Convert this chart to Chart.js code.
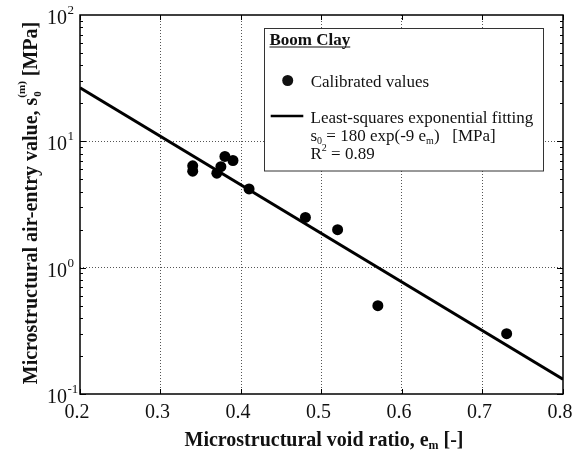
<!DOCTYPE html>
<html>
<head>
<meta charset="utf-8">
<script src="https://cdn.jsdelivr.net/npm/chart.js@4.4.0/dist/chart.umd.min.js"></script>
<style>
  html, body { margin: 0; padding: 0; background: #fff; }
</style>
</head>
<body>
<canvas id="chart" width="573" height="459"></canvas>
<script>
// ==========================================
// DATA
// ==========================================

const voidRatio = [0.34, 0.34, 0.37, 0.375, 0.38, 0.39, 0.41, 0.48, 0.52, 0.57, 0.73];
const airEntry = [6.4, 5.8, 5.6, 6.3, 7.6, 7.05, 4.2, 2.5, 2.0, 0.5, 0.3];

// least-squares fit, end points at the plot edges
const fitVoid = [0.2, 0.8];
const fitAir = [26.5, 0.131];

const xTicks = [0.2, 0.3, 0.4, 0.5, 0.6, 0.7, 0.8];
const yDecades = [-1, 0, 1, 2];      // y tick labels are 10^p

const SERIF = '"Liberation Serif", "Times New Roman", serif';

// draw a row of text pieces; dy shifts sub/superscripts
function drawPieces(ctx, pieces, x, y) {
    let cx = x;
    pieces.forEach(p => {
        ctx.font = p.font;
        ctx.fillText(p.text, cx, y + (p.dy || 0));
        cx += ctx.measureText(p.text).width;
    });
    return cx;
}

function piecesWidth(ctx, pieces) {
    let w = 0;
    pieces.forEach(p => {
        ctx.font = p.font;
        w += ctx.measureText(p.text).width;
    });
    return w;
}

// ==========================================
// LEGEND BOX
// ==========================================

function drawLegendBox(ctx) {
    const reg = '17px ' + SERIF;
    const small = '10px ' + SERIF;

    ctx.save();
    ctx.fillStyle = '#fff';
    ctx.fillRect(264.5, 28.5, 279, 142.5);
    ctx.strokeStyle = '#333';
    ctx.lineWidth = 1;
    ctx.strokeRect(264.5, 28.5, 279, 142.5);

    ctx.fillStyle = '#111';
    ctx.textBaseline = 'alphabetic';
    ctx.textAlign = 'left';

    // title, underlined
    ctx.font = 'bold 17px ' + SERIF;
    ctx.fillText('Boom Clay', 269.5, 45);
    const tw = ctx.measureText('Boom Clay').width;
    ctx.fillRect(269.5, 46.5, tw, 1);

    // marker entry
    ctx.beginPath();
    ctx.arc(287.7, 80.5, 5.5, 0, Math.PI * 2);
    ctx.fill();
    ctx.font = reg;
    ctx.fillText('Calibrated values', 310.7, 86.5);

    // line entry
    ctx.strokeStyle = '#000';
    ctx.lineWidth = 2.5;
    ctx.beginPath();
    ctx.moveTo(270.7, 116);
    ctx.lineTo(303.3, 116);
    ctx.stroke();
    ctx.font = reg;
    ctx.fillText('Least-squares exponential fitting', 310.5, 123);

    drawPieces(ctx, [
        { text: 's', font: reg },
        { text: '0', font: small, dy: 3 },
        { text: ' = 180 exp(-9 e', font: reg },
        { text: 'm', font: small, dy: 3 },
        { text: ')   [MPa]', font: reg }
    ], 310.5, 141);

    drawPieces(ctx, [
        { text: 'R', font: reg },
        { text: '2', font: small, dy: -8 },
        { text: ' = 0.89', font: reg }
    ], 310.5, 159);

    ctx.restore();
}

// ==========================================
// FRAME, TICKS, LABELS, TITLES
// ==========================================

const figurePlugin = {
    id: 'figure',

    afterDatasetsDraw(chart) {
        drawLegendBox(chart.ctx);
    },

    afterDraw(chart) {
        const ctx = chart.ctx;
        const a = chart.chartArea;
        const x = chart.scales.x;
        const y = chart.scales.y;

        ctx.save();
        ctx.strokeStyle = '#000';

        // inward tick marks
        ctx.lineWidth = 1;
        ctx.beginPath();
        xTicks.forEach(v => {
            const px = Math.round(x.getPixelForValue(v)) + 0.5;
            ctx.moveTo(px, a.bottom);
            ctx.lineTo(px, a.bottom - 5);
            ctx.moveTo(px, a.top);
            ctx.lineTo(px, a.top + 5);
        });
        for (let p = -1; p < 2; p++) {
            for (let m = 1; m < 10; m++) {
                const py = Math.round(y.getPixelForValue(m * Math.pow(10, p))) + 0.5;
                const len = m === 1 ? 6 : 3;
                ctx.moveTo(a.left, py);
                ctx.lineTo(a.left + len, py);
                ctx.moveTo(a.right, py);
                ctx.lineTo(a.right - len, py);
            }
        }
        ctx.stroke();

        // frame
        ctx.lineWidth = 1.5;
        ctx.strokeRect(a.left, a.top, a.width, a.height);

        // y tick labels 10^p
        ctx.fillStyle = '#111';
        ctx.textBaseline = 'alphabetic';
        yDecades.forEach(p => {
            const py = y.getPixelForValue(Math.pow(10, p));
            ctx.font = '20px ' + SERIF;
            ctx.textAlign = 'right';
            ctx.fillText('10', a.left - 13, py + 9);
            ctx.font = '13px ' + SERIF;
            ctx.textAlign = 'left';
            ctx.fillText(String(p), a.left - 12.5, py - 1);
        });

        // x axis title
        const bold = 'bold 20px ' + SERIF;
        const boldSmall = 'bold 12px ' + SERIF;
        ctx.textAlign = 'left';
        const xTitle = [
            { text: 'Microstructural void ratio, e', font: bold },
            { text: 'm', font: boldSmall, dy: 3 },
            { text: ' [-]', font: bold }
        ];
        const xw = piecesWidth(ctx, xTitle);
        drawPieces(ctx, xTitle, 324 - xw / 2, 446);

        // y axis title, rotated, with stacked sub/superscript
        const head = [{ text: 'Microstructural air-entry value, s', font: bold }];
        const tail = [{ text: ' [MPa]', font: bold }];
        ctx.font = 'bold 11px ' + SERIF;
        const stackW = ctx.measureText('(m)').width;
        const yw = piecesWidth(ctx, head) + stackW + piecesWidth(ctx, tail);

        ctx.translate(37, 203);
        ctx.rotate(-Math.PI / 2);
        let cx = drawPieces(ctx, head, -yw / 2, 0);
        ctx.font = 'bold 11px ' + SERIF;
        ctx.fillText('0', cx + 1, 4);
        ctx.fillText('(m)', cx, -12);
        drawPieces(ctx, tail, cx + stackW, 0);

        ctx.restore();
    }
};

// ==========================================
// CHART
// ==========================================

const points = voidRatio.map((e, i) => ({ x: e, y: airEntry[i] }));
const fitLine = fitVoid.map((e, i) => ({ x: e, y: fitAir[i] }));

const edgeHidden = (lo, hi) => ctx =>
    (Math.abs(ctx.tick.value - lo) < 1e-9 || Math.abs(ctx.tick.value - hi) < 1e-9)
        ? 'rgba(0,0,0,0)' : '#555';

new Chart(document.getElementById('chart'), {

    type: 'scatter',

    data: {
        datasets: [
            {
                label: 'Least-squares exponential fitting',
                data: fitLine,
                showLine: true,
                borderColor: '#000',
                borderWidth: 3,
                pointRadius: 0,
                fill: false
            },
            {
                label: 'Calibrated values',
                data: points,
                backgroundColor: '#000',
                borderWidth: 0,
                pointRadius: 5.5,
                pointHoverRadius: 5.5
            }
        ]
    },

    options: {
        responsive: false,
        animation: false,
        events: [],

        layout: {
            padding: { left: 80, right: 10, top: 15, bottom: 27 }
        },

        plugins: {
            legend: { display: false },
            tooltip: { enabled: false }
        },

        scales: {

            x: {
                type: 'linear',
                min: 0.2,
                max: 0.8,
                afterBuildTicks: scale => {
                    scale.ticks = xTicks.map(v => ({ value: v }));
                },
                // labels may overhang the plot edges, like the original
                afterFit: scale => {
                    scale.paddingLeft = 0;
                    scale.paddingRight = 0;
                },
                ticks: {
                    color: '#111',
                    padding: 7,
                    maxRotation: 0,
                    labelOffset: -3,
                    font: { family: SERIF, size: 20 },
                    callback: v => v.toFixed(1)
                },
                grid: {
                    color: edgeHidden(0.2, 0.8),
                    lineWidth: 1,
                    drawTicks: false
                },
                border: { display: false, dash: [1, 2] }
            },

            y: {
                type: 'logarithmic',
                min: 0.1,
                max: 100,
                afterBuildTicks: scale => {
                    scale.ticks = yDecades.map(p => ({ value: Math.pow(10, p) }));
                },
                ticks: { display: false },
                grid: {
                    color: edgeHidden(0.1, 100),
                    lineWidth: 1,
                    drawTicks: false
                },
                border: { display: false, dash: [1, 2] }
            }
        }
    },

    plugins: [figurePlugin]
});
</script>
</body>
</html>
